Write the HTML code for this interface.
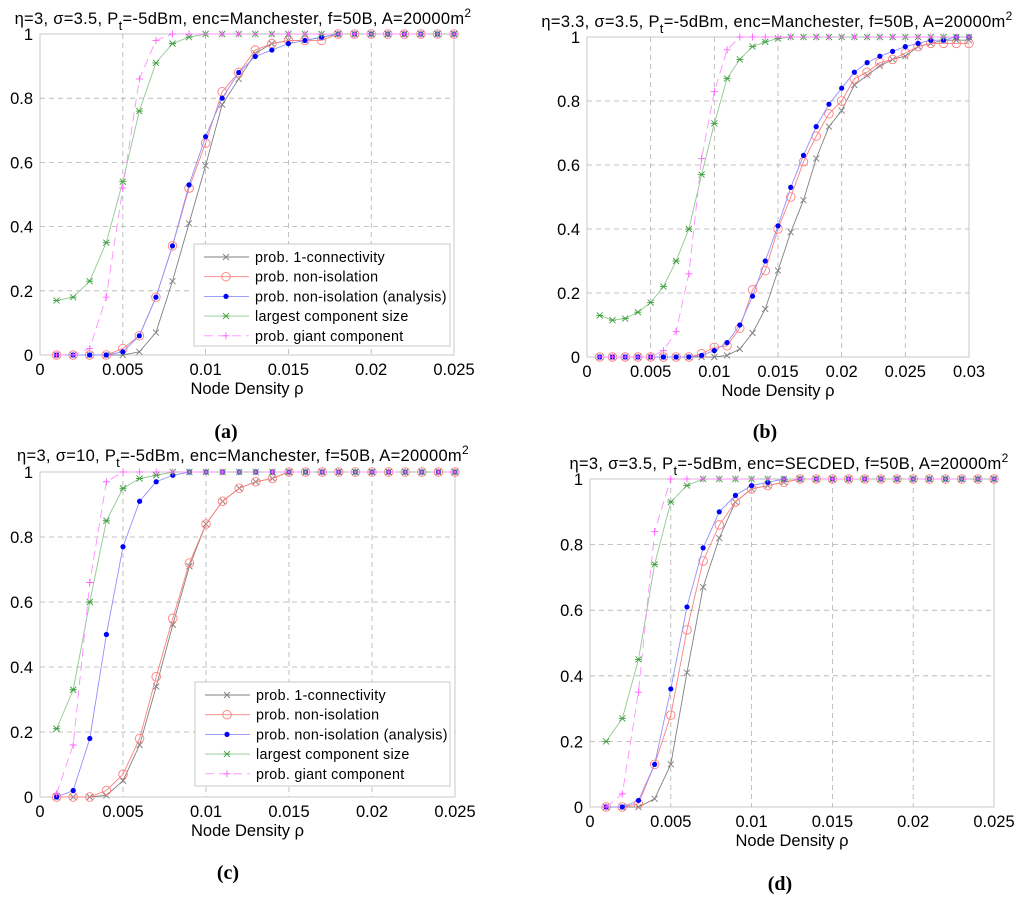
<!DOCTYPE html>
<html><head><meta charset="utf-8"><style>
body{margin:0;background:#fff;}
svg{display:block;font-family:"Liberation Sans",sans-serif;}
</style></head><body>
<svg id="fig" width="1024" height="899"></svg>
<script>
// ---- data ----
const xsA=[1,2,3,4,5,6,7,8,9,10,11,12,13,14,15,16,17,18,19,20,21,22,23,24,25];
const xsB=[1,2,3,4,5,6,7,8,9,10,11,12,13,14,15,16,17,18,19,20,21,22,23,24,25,26,27,28,29,30];
const aConn=[0,0,0,0,0,0.01,0.07,0.23,0.41,0.59,0.78,0.86,0.94,0.97,0.98,0.98,0.99,1,1,1,1,1,1,1,1];
const aIso=[0,0,0,0,0.02,0.06,0.18,0.34,0.52,0.66,0.82,0.88,0.95,0.97,0.98,0.98,0.98,1,1,1,1,1,1,1,1];
const aAna=[0,0,0,0,0.01,0.06,0.18,0.34,0.53,0.68,0.80,0.88,0.93,0.95,0.97,0.98,0.99,1,1,1,1,1,1,1,1];
const aLarge=[0.17,0.18,0.23,0.35,0.54,0.76,0.91,0.97,0.99,1,1,1,1,1,1,1,1,1,1,1,1,1,1,1,1];
const aGiant=[0,0,0.02,0.18,0.52,0.86,0.98,1,1,1,1,1,1,1,1,1,1,1,1,1,1,1,1,1,1];
const bConn=[0,0,0,0,0,0,0,0,0,0,0.005,0.025,0.075,0.15,0.27,0.39,0.49,0.62,0.72,0.77,0.85,0.88,0.91,0.93,0.94,0.97,0.98,0.99,0.99,0.99];
const bIso=[0,0,0,0,0,0,0,0,0.01,0.03,0.035,0.09,0.21,0.27,0.40,0.50,0.61,0.69,0.76,0.80,0.87,0.89,0.92,0.93,0.95,0.97,0.98,0.98,0.98,0.98];
const bAna=[0,0,0,0,0,0,0,0,0.005,0.02,0.045,0.10,0.19,0.30,0.41,0.53,0.63,0.72,0.79,0.84,0.89,0.92,0.94,0.955,0.97,0.98,0.99,0.99,1,1];
const bLarge=[0.13,0.115,0.12,0.14,0.17,0.22,0.30,0.40,0.57,0.73,0.87,0.93,0.97,0.985,0.995,1,1,1,1,1,1,1,1,1,1,1,1,1,1,1];
const bGiant=[0,0,0,0,0,0.02,0.08,0.26,0.62,0.83,0.96,1,1,1,1,1,1,1,1,1,1,1,1,1,1,1,1,1,1,1];
const cConn=[0,0,0,0.005,0.05,0.16,0.34,0.53,0.71,0.84,0.91,0.95,0.97,0.98,1,1,1,1,1,1,1,1,1,1,1];
const cIso=[0,0,0,0.02,0.07,0.18,0.37,0.55,0.72,0.84,0.91,0.95,0.97,0.98,1,1,1,1,1,1,1,1,1,1,1];
const cAna=[0,0.02,0.18,0.50,0.77,0.91,0.97,0.99,1,1,1,1,1,1,1,1,1,1,1,1,1,1,1,1,1];
const cLarge=[0.21,0.33,0.60,0.85,0.95,0.98,0.99,1,1,1,1,1,1,1,1,1,1,1,1,1,1,1,1,1,1];
const cGiant=[0.01,0.16,0.66,0.97,1,1,1,1,1,1,1,1,1,1,1,1,1,1,1,1,1,1,1,1,1];
const dConn=[0,0,0,0.025,0.13,0.41,0.67,0.82,0.93,0.97,0.98,0.99,1,1,1,1,1,1,1,1,1,1,1,1,1];
const dIso=[0,0,0.01,0.13,0.28,0.54,0.75,0.86,0.93,0.97,0.98,0.99,1,1,1,1,1,1,1,1,1,1,1,1,1];
const dAna=[0,0,0.02,0.13,0.36,0.61,0.79,0.90,0.95,0.98,0.99,1,1,1,1,1,1,1,1,1,1,1,1,1,1];
const dLarge=[0.20,0.27,0.45,0.74,0.93,0.98,1,1,1,1,1,1,1,1,1,1,1,1,1,1,1,1,1,1,1];
const dGiant=[0,0.04,0.35,0.84,1,1,1,1,1,1,1,1,1,1,1,1,1,1,1,1,1,1,1,1,1];
const yTicks=["0","0.2","0.4","0.6","0.8","1"];
const xTicks25=["0","0.005","0.01","0.015","0.02","0.025"];
const xTicks30=["0","0.005","0.01","0.015","0.02","0.025","0.03"];
const legendLabels=["prob. 1-connectivity","prob. non-isolation","prob. non-isolation (analysis)","largest component size","prob. giant component"];

const NS="http://www.w3.org/2000/svg";
const svg=document.getElementById('fig');
function mk(tag,attrs,parent){const e=document.createElementNS(NS,tag);for(const k in attrs)e.setAttribute(k,attrs[k]);(parent||svg).appendChild(e);return e;}

const styles=[
 {c:'#808080',m:'x',dash:null},
 {c:'#ff8080',m:'o',dash:null},
 {c:'#0000ff',m:'dot',dash:null,lc:'#9090ff'},
 {c:'#40a040',m:'star',dash:null,lc:'#90c890'},
 {c:'#ff60ff',m:'plus',dash:'9,5',lc:'#ff90ff'}
];
function marker(g,m,x,y,c){
 if(m==='x'){mk('path',{d:`M${x-3},${y-3}L${x+3},${y+3}M${x-3},${y+3}L${x+3},${y-3}`,stroke:c,'stroke-width':0.9,fill:'none'},g);}
 else if(m==='o'){mk('circle',{cx:x,cy:y,r:4.3,stroke:c,'stroke-width':0.9,fill:'none'},g);}
 else if(m==='dot'){mk('circle',{cx:x,cy:y,r:2.6,fill:c},g);}
 else if(m==='star'){mk('path',{d:`M${x-3},${y-3}L${x+3},${y+3}M${x-3},${y+3}L${x+3},${y-3}M${x-3.5},${y}L${x+3.5},${y}`,stroke:c,'stroke-width':0.9,fill:'none'},g);}
 else if(m==='plus'){mk('path',{d:`M${x-3.5},${y}L${x+3.5},${y}M${x},${y-3.5}L${x},${y+3.5}`,stroke:c,'stroke-width':0.9,fill:'none'},g);}
}
function panel(o){
 const g=mk('g',{});
 
 
 const {L,R,T,B,xmax}=o;
 const sx=v=>L+(v/xmax)*(R-L), sy=v=>B-v*(B-T);
 mk('rect',{x:L,y:T,width:R-L,height:B-T,fill:'#fff',stroke:'#c8c8c8','stroke-width':1},g);
 const nx=o.xt.length;
 o.xt.forEach((t,i)=>{const v=i*xmax/(nx-1);const x=sx(v);
  if(i>0&&i<nx-1){const gl=mk('line',{x1:x,x2:x,y1:T,y2:B,stroke:'#b0b0b0','stroke-dasharray':'5,4','stroke-width':0.8},g);}
  const tx=mk('text',{x:x,y:B+20,'font-size':16.5,'text-anchor':'middle',fill:'#000'},g);tx.textContent=t;
  });
 yTicks.forEach((t,i)=>{const y=sy(i/5);
  if(i>0&&i<5){const gl=mk('line',{x1:L,x2:R,y1:y,y2:y,stroke:'#b0b0b0','stroke-dasharray':'5,4','stroke-width':0.8},g);}
  const tx=mk('text',{x:L-7,y:y+6,'font-size':16.5,'text-anchor':'end',fill:'#000'},g);tx.textContent=t;
  });
 o.series.forEach((s,k)=>{const st=styles[k];
  const pts=s.map((v,i)=>sx(o.xs[i]/1000)+','+sy(v)).join(' ');
  const pl=mk('polyline',{points:pts,fill:'none',stroke:st.lc||st.c,'stroke-width':0.9},g);
  if(st.dash)pl.setAttribute('stroke-dasharray',st.dash);
  
  s.forEach((v,i)=>marker(g,st.m,sx(o.xs[i]/1000),sy(v),st.c));
 });
 const xl=mk('text',{x:(L+R)/2,y:B+39,'font-size':16.5,'text-anchor':'middle'},g);xl.textContent='Node Density ρ';
 
 const ti=mk('text',{x:o.tx,y:o.ty,'font-size':16.5,'text-anchor':'middle','letter-spacing':0.3},g);
 ti.innerHTML=o.title;
 
 const cap=mk('text',{x:o.capx,y:o.capy,'font-size':20,'font-weight':'bold','text-anchor':'middle','font-family':'Liberation Serif,serif'},g);
 cap.textContent=o.cap;
 
 if(o.leg){const [lx,ly,lw,lh]=o.leg;
  const lg=mk('g',{},g);
  mk('rect',{x:lx,y:ly,width:lw,height:lh,fill:'#fff',stroke:'#c8c8c8'},lg);
  legendLabels.forEach((lab,k)=>{const st=styles[k];const yy=ly+13+k*19.7;
   const ll=mk('line',{x1:lx+10,x2:lx+55,y1:yy,y2:yy,stroke:st.lc||st.c,'stroke-width':0.9},lg);
   if(st.dash)ll.setAttribute('stroke-dasharray',st.dash);
   marker(lg,st.m,lx+32,yy,st.c);
   const t=mk('text',{x:lx+61,y:yy+5,'font-size':14.3,'letter-spacing':0.3},lg);t.textContent=lab;
   });}
}
const tm=(eta,sig,enc)=>`η=${eta}, σ=${sig}, P<tspan dy="6" font-size="13">t</tspan><tspan dy="-6">=-5dBm, enc=${enc}, f=50B, A=20000m</tspan><tspan dy="-7" font-size="12">2</tspan>`;
panel({name:'panel-a',L:40,R:454,T:34,B:355,xmax:0.025,xs:xsA,xt:xTicks25,series:[aConn,aIso,aAna,aLarge,aGiant],title:tm(3,3.5,'Manchester'),tx:243,ty:24,cap:'(a)',capx:226,capy:438,leg:[194,244,256,102]});
panel({name:'panel-b',L:587,R:969,T:37,B:357,xmax:0.03,xs:xsB,xt:xTicks30,series:[bConn,bIso,bAna,bLarge,bGiant],title:tm(3.3,3.5,'Manchester'),tx:777,ty:27,cap:'(b)',capx:765,capy:438});
panel({name:'panel-c',L:40,R:455,T:472,B:797,xmax:0.025,xs:xsA,xt:xTicks25,series:[cConn,cIso,cAna,cLarge,cGiant],title:tm(3,10,'Manchester'),tx:243,ty:461,cap:'(c)',capx:228,capy:879,leg:[195,682,255,104]});
panel({name:'panel-d',L:590,R:994,T:479,B:807,xmax:0.025,xs:xsA,xt:xTicks25,series:[dConn,dIso,dAna,dLarge,dGiant],title:tm(3,3.5,'SECDED'),tx:789,ty:469,cap:'(d)',capx:780,capy:890});
</script>
</body></html>
